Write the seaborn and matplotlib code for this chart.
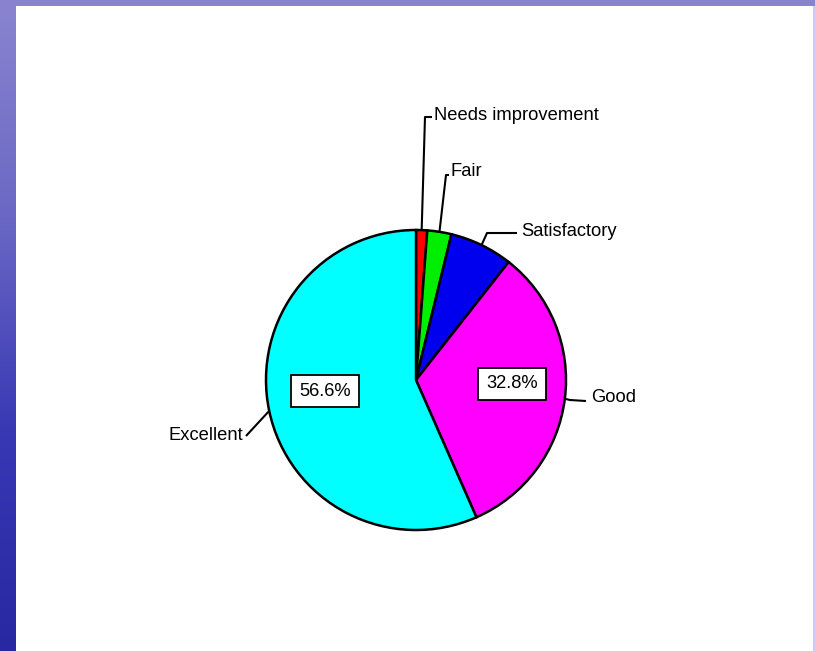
import numpy as np
import matplotlib
matplotlib.use("Agg")
import matplotlib.pyplot as plt
import seaborn as sns

# Survey ratings, in pie order (clockwise from 12 o'clock)
categories = ["Needs improvement", "Fair", "Satisfactory", "Good", "Excellent"]
shares = [1.2, 2.6, 6.8, 32.8, 56.6]
slice_colors = ["#ff0000", "#00ee00", "#0000ee", "#ff00ff", "#00ffff"]

sns.set_theme(style="white")
plt.rcParams["font.family"] = ["Liberation Sans", "DejaVu Sans"]

W, H = 815, 651
fig = plt.figure(figsize=(W / 100, H / 100), dpi=100)

# slide backdrop: blue-violet gradient
bg = fig.add_axes([0, 0, 1, 1])
grad = np.linspace(0, 1, 256).reshape(-1, 1)
cmap = matplotlib.colors.LinearSegmentedColormap.from_list(
    "slide", ["#8a84d0", "#6a68c4", "#3838b4", "#2828a2"])
bg.imshow(grad, aspect="auto", cmap=cmap, extent=[0, 1, 0, 1])
bg.set_axis_off()

# white content panel
panel = fig.add_axes([16 / W, 0, (813 - 16) / W, (H - 6) / H])
panel.set_facecolor("white")
panel.set_xticks([])
panel.set_yticks([])
for s in panel.spines.values():
    s.set_visible(False)
fig.add_artist(plt.Rectangle((813 / W, 0), 2 / W, (H - 6) / H,
                             transform=fig.transFigure, color="#cfc8f2", lw=0))

# pie axes in pixel units (y measured from bottom)
ax = fig.add_axes([0, 0, 1, 1])
ax.set_axis_off()
ax.patch.set_alpha(0)

cx, cy, R = 416, H - 380, 150
FS = 13.2


def pct_fmt(p):
    return f"{p:.1f}%" if p > 30 else ""


wedges, _, autotexts = ax.pie(
    shares, colors=slice_colors, startangle=90, counterclock=False,
    center=(cx, cy), radius=R, autopct=pct_fmt, pctdistance=0.62,
    wedgeprops=dict(edgecolor="black", linewidth=1.8),
    textprops=dict(fontsize=FS, color="black"))
ax.set_xlim(0, W)
ax.set_ylim(0, H)
ax.set_aspect("equal")

# percentage boxes
pct_pos = {"Good": (512, H - 384), "Excellent": (325, H - 391)}
for name, t in zip(categories, autotexts):
    if name in pct_pos:
        t.set_position(pct_pos[name])
        t.set_bbox(dict(boxstyle="square,pad=0.42", facecolor="white",
                        edgecolor="black", linewidth=1.3))

# category labels with leader lines from the wedge rim
label_layout = {
    "Needs improvement": dict(elbow=(425, 117), end=(432, 117), text=(434, 115), ha="left"),
    "Fair": dict(elbow=(446, 175), end=(449, 175), text=(451, 171), ha="left"),
    "Satisfactory": dict(elbow=(487, 233), end=(517, 233), text=(521, 231), ha="left"),
    "Good": dict(elbow=(570, 400), end=(586, 401), text=(591, 398), ha="left"),
    "Excellent": dict(elbow=(258, 423), end=(246, 436), text=(243, 436), ha="right"),
}
for name, w in zip(categories, wedges):
    mid = np.deg2rad((w.theta1 + w.theta2) / 2)
    x0, y0 = cx + R * np.cos(mid), cy + R * np.sin(mid)
    lay = label_layout[name]
    xs = [x0, lay["elbow"][0], lay["end"][0]]
    ys = [y0, H - lay["elbow"][1], H - lay["end"][1]]
    ax.plot(xs, ys, color="black", lw=1.5, solid_capstyle="butt")
    ax.text(lay["text"][0], H - lay["text"][1], name, ha=lay["ha"],
            va="center", fontsize=FS, color="black")

fig.savefig("out.png", dpi=100)
